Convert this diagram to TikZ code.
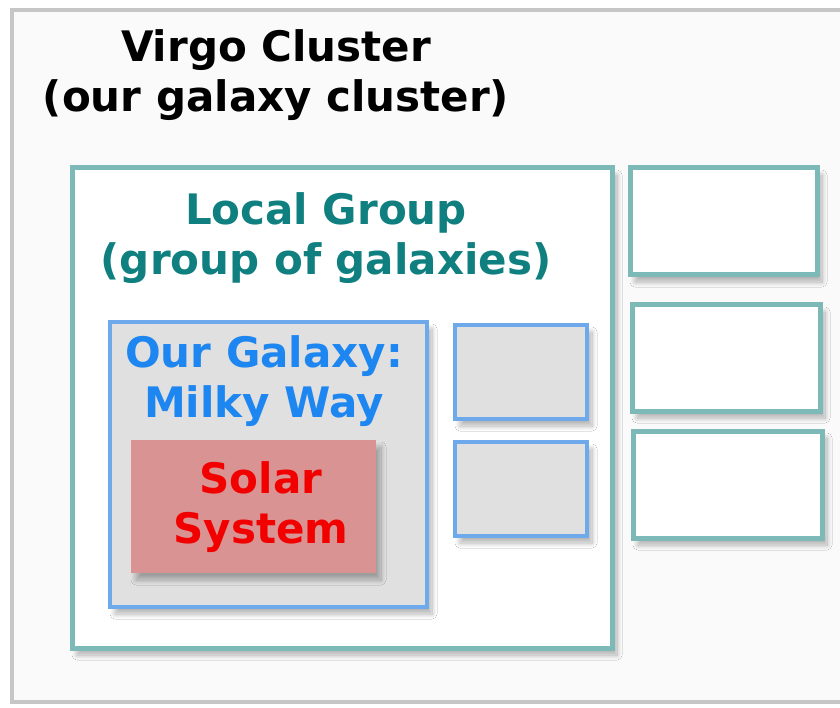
\documentclass[tikz,border=0pt]{standalone}
\usepackage{fontspec}
\setmainfont{DejaVu Sans}
\usetikzlibrary{shadows.blur}
\definecolor{tealline}{HTML}{7DB9B6}
\definecolor{tealtext}{HTML}{0F7F7F}
\definecolor{blueline}{HTML}{6EA9EC}
\definecolor{bluetext}{HTML}{1E86F0}
\definecolor{grayfill}{HTML}{E0E0E0}
\definecolor{pinkfill}{HTML}{D99393}
\definecolor{redtext}{HTML}{F20000}
\definecolor{framegray}{HTML}{C6C6C6}
\tikzset{
  shd/.style={blur shadow={shadow xshift=5pt, shadow yshift=-7pt, shadow blur steps=20, shadow opacity=30, shadow blur radius=5pt, shadow blur extra rounding=0pt}},
  tealbox/.style={draw=tealline, line width=5pt, fill=white, shd, inner sep=0pt},
  bluebox/.style={draw=blueline, line width=4.5pt, fill=grayfill, shd, inner sep=0pt},
  pinkbox/.style={draw=none, fill=pinkfill, shd, inner sep=0pt},
  lbl/.style={align=center, inner sep=0pt, font=\fontsize{42}{50}\selectfont\bfseries}
}
\begin{document}
\begin{tikzpicture}[x=1pt,y=-1pt]
\useasboundingbox (0,0) rectangle (840,708);
\clip (0,0) rectangle (840,708);
\fill[white] (0,0) rectangle (840,708);
\node[draw=framegray, line width=4pt, fill=white!98!black, minimum width=850pt, minimum height=692pt, anchor=north west, inner sep=0pt] (frame) at (10,8) {};
\node[lbl, text=black] (virgo) at (276,75) {Virgo Cluster\\(our galaxy cluster)};
% Local group
\node[tealbox, minimum width=540pt, minimum height=480pt] (lg) at (342,408) {};
\node[lbl, text=tealtext] (lgt) at (326,238) {Local Group\\(group of galaxies)};
% Milky way
\node[bluebox, minimum width=317pt, minimum height=285pt] (mw) at (268.5,464.5) {};
\node[lbl, text=bluetext] (mwt) at (264,381) {Our Galaxy:\\Milky Way};
% Solar system
\node[pinkbox, minimum width=245pt, minimum height=133pt] (ss) at (253.5,506.5) {};
\node[lbl, text=redtext] (sst) at (261,507) {Solar\\System};
% small galaxies
\node[bluebox, minimum width=132pt, minimum height=94pt] (g1) at (521,372) {};
\node[bluebox, minimum width=132pt, minimum height=94pt] (g2) at (521,489) {};
% other groups
\node[tealbox, minimum width=187pt, minimum height=107pt] (r1) at (723.5,221.5) {};
\node[tealbox, minimum width=188pt, minimum height=106pt] (r2) at (726,358) {};
\node[tealbox, minimum width=189pt, minimum height=107pt] (r3) at (727.5,484.5) {};
\end{tikzpicture}
\end{document}
